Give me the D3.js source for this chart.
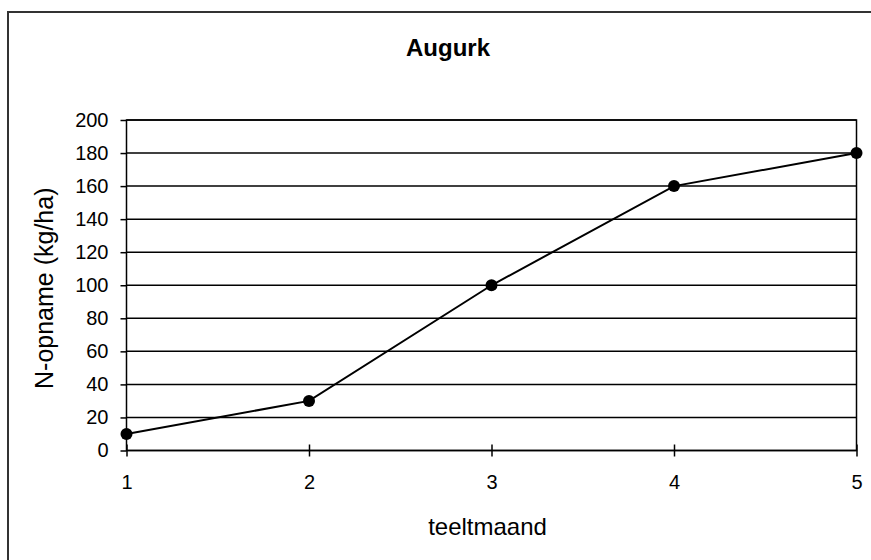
<!DOCTYPE html>
<html>
<head>
<meta charset="utf-8">
<script src="https://cdn.jsdelivr.net/npm/d3@7"></script>
<style>
  body { margin: 0; background: #fff; }
  text { font-family: "Liberation Sans", Arial, sans-serif; fill: #000; }
</style>
</head>
<body>
<div class="container"></div>
<script>
// teeltmaand vs N-opname
let months = [1, 2, 3, 4, 5];
let uptake = [10, 30, 100, 160, 180];
let yTicks = [0, 20, 40, 60, 80, 100, 120, 140, 160, 180, 200];

let margin = { top: 120, right: 14.5, bottom: 109.5, left: 126.5 };
let width = 871 - margin.left - margin.right;
let height = 560 - margin.top - margin.bottom;

let root = d3.select(".container")
    .append("svg")
    .attr("width", 871)
    .attr("height", 560);

// chart area border (runs off the right/bottom edge)
root.append("rect")
    .attr("x", 8)
    .attr("y", 12)
    .attr("width", 900)
    .attr("height", 600)
    .attr("fill", "none")
    .attr("stroke", "#333")
    .attr("stroke-width", 2);

root.append("text")
    .attr("x", 448)
    .attr("y", 56)
    .attr("text-anchor", "middle")
    .style("font-size", "24px")
    .style("font-weight", "bold")
    .text("Augurk");

let svg = root.append("g")
    .attr("transform", "translate(" + margin.left + "," + margin.top + ")");

let x = d3.scaleLinear().domain([1, 5]).range([0, width]);
let y = d3.scaleLinear().domain([0, 200]).range([height, 0]);

// gridlines
svg.append("g")
    .selectAll("line")
    .data(yTicks)
    .enter()
    .append("line")
    .attr("x1", 0)
    .attr("x2", width)
    .attr("y1", d => y(d))
    .attr("y2", d => y(d))
    .attr("stroke", "#000")
    .attr("stroke-width", 1.5);

// plot frame
svg.append("rect")
    .attr("width", width)
    .attr("height", height)
    .attr("fill", "none")
    .attr("stroke", "#000")
    .attr("stroke-width", 1.5);

let yAxis = svg.append("g")
    .call(d3.axisLeft(y).tickValues(yTicks).tickSize(6).tickPadding(12));
yAxis.select(".domain").remove();
yAxis.selectAll("line").attr("stroke", "#000").attr("stroke-width", 1.5);
yAxis.selectAll("text").style("font-size", "20px");

let xAxis = svg.append("g")
    .attr("transform", "translate(0," + height + ")")
    .call(d3.axisBottom(x).tickValues(months).tickFormat(d3.format("d")).tickSize(6).tickPadding(18));
xAxis.select(".domain").remove();
xAxis.selectAll("line").attr("y1", -6).attr("stroke", "#000").attr("stroke-width", 1.5);
xAxis.selectAll("text").style("font-size", "20px");

// axis titles
svg.append("text")
    .attr("x", width / 2 - 4)
    .attr("y", height + 84)
    .attr("text-anchor", "middle")
    .style("font-size", "24px")
    .text("teeltmaand");

svg.append("text")
    .attr("transform", "translate(" + (-73.5) + "," + (height / 2 + 3) + ") rotate(-90)")
    .attr("text-anchor", "middle")
    .style("font-size", "25px")
    .text("N-opname (kg/ha)");

// series
let line = d3.line()
    .x((d, i) => x(months[i]))
    .y(d => y(d));

svg.append("path")
    .datum(uptake)
    .attr("d", line)
    .attr("fill", "none")
    .attr("stroke", "#000")
    .attr("stroke-width", 2);

svg.append("g")
    .selectAll("circle")
    .data(uptake)
    .enter()
    .append("circle")
    .attr("cx", (d, i) => x(months[i]))
    .attr("cy", d => y(d))
    .attr("r", 6)
    .attr("fill", "#000");
</script>
</body>
</html>
